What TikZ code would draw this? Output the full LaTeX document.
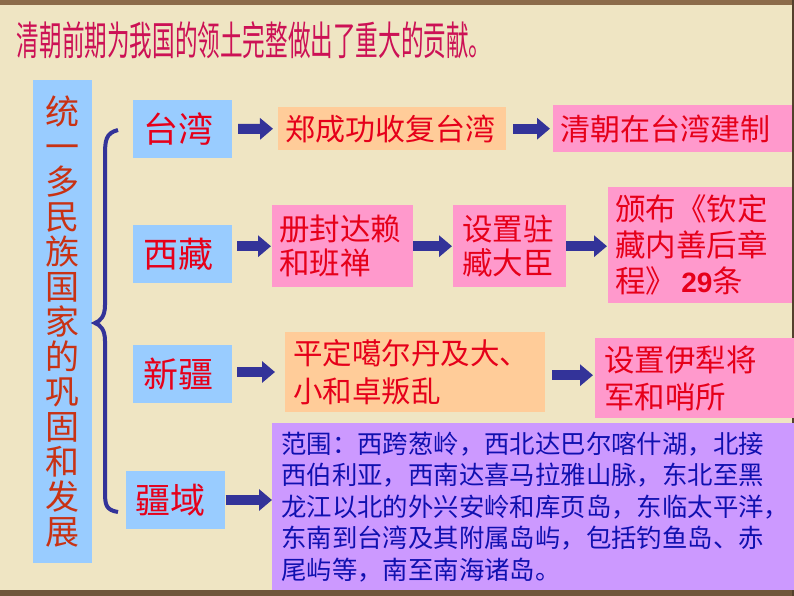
\documentclass[tikz,border=0pt]{standalone}
\usepackage{fontspec}
\setmainfont{Noto Sans CJK SC}
\newfontfamily\arialfont{Liberation Sans}
\usetikzlibrary{arrows.meta}

\definecolor{zhibei}{HTML}{EFE5C3}
\definecolor{biankuang}{HTML}{8C6B4A}
\definecolor{qianlan}{HTML}{99CCFF}
\definecolor{juhuang}{HTML}{FFCC99}
\definecolor{fenhong}{HTML}{FF99CC}
\definecolor{qianzi}{HTML}{CC99FF}
\definecolor{shenlan}{HTML}{333399}
\definecolor{biaotise}{HTML}{CC1155}
\definecolor{zhuhong}{HTML}{C83214}
\definecolor{hongzi}{HTML}{E6001A}
\definecolor{lanzi}{HTML}{1010B0}

\tikzset{
  leibie/.style={fill=qianlan, text=hongzi, text width=79pt, align=left,
    minimum height=58pt, inner xsep=10pt, inner ysep=0pt,
    font=\fontsize{35}{35}\selectfont},
  kuang/.style={anchor=north west, inner xsep=7pt, inner ysep=0pt,
    align=left, text=hongzi},
  jiantou/.style={shenlan, line width=10pt,
    -{Triangle[length=13pt,width=21pt]}},
}

\begin{document}
\begin{tikzpicture}[x=1pt,y=-1pt]

% 底色
\fill[zhibei] (0,0) rectangle (794,596);
\fill[biankuang] (0,0) rectangle (794,5);
\fill[biankuang!80!black] (0,590) rectangle (794,596);
\fill[biankuang!60!black] (792,0) rectangle (794,596);
\useasboundingbox (0,0) rectangle (794,596);

% 标题
\node[anchor=west, xscale=0.565, text=biaotise,
  font=\fontsize{40}{42}\selectfont]
(biaoti) at (15,40)
{清朝前期为我国的领土完整做出了重大的贡献。};

% 主题
\node[fill=qianlan, text=zhuhong, minimum width=59pt,
  minimum height=483pt, align=center,
  font=\fontsize{34}{35}\selectfont]
(zhuti) at (62.5,321.5)
{统\\一\\多\\民\\族\\国\\家\\的\\巩\\固\\和\\发\\展};

% 大括号
\draw[shenlan, line width=4pt]
(118,130)
.. controls (106,133) and (105,140) .. (105,155)
-- (105,305)
.. controls (105,317) and (100,321) .. (95,323)
.. controls (100,325) and (105,329) .. (105,341)
-- (105,492)
.. controls (105,505) and (106,510) .. (118,512);

% 分类
\node[leibie] (taiwan) at (182.5,129) {台湾};
\node[leibie] (xizang) at (182.5,254) {西藏};
\node[leibie] (xinjiang) at (182.5,374) {新疆};
\node[leibie] (jiangyu) at (175,500) {疆域};

% 台湾
\node[kuang, fill=juhuang, text width=214pt, minimum height=43pt,
  font=\fontsize{30}{34}\selectfont]
(zheng) at (278,107)
{郑成功收复台湾};
\node[kuang, fill=fenhong, text width=225pt, minimum height=47pt,
  font=\fontsize{30}{34}\selectfont]
(jianzhi) at (553,105)
{清朝在台湾建制};

% 西藏
\node[kuang, fill=fenhong, text width=127pt, minimum height=82pt,
  font=\fontsize{30.5}{34}\selectfont]
(cefeng) at (272,205)
{册封达赖\\和班禅};
\node[kuang, fill=fenhong, text width=95pt, minimum height=82pt,
  inner xsep=9pt, font=\fontsize{30.5}{34}\selectfont]
(zhuzang) at (453,205)
{设置驻\\臧大臣};
\node[kuang, fill=fenhong, text width=170pt, minimum height=116pt,
  font=\fontsize{30.5}{36}\selectfont]
(banbu) at (608,187)
{颁布《钦定\\藏内善后章\\程》\,{\arialfont\bfseries\fontsize{28}{36}\selectfont 29}条};

% 新疆
\node[kuang, fill=juhuang, text width=244pt, minimum height=80pt,
  inner xsep=8pt, font=\fontsize{29.5}{38}\selectfont]
(pingding) at (285,332)
{平定噶尔丹及大、\\小和卓叛乱};
\node[kuang, fill=fenhong, text width=183pt, minimum height=80pt,
  inner xsep=9pt, font=\fontsize{30.5}{37}\selectfont]
(yili) at (595,338)
{设置伊犁将\\军和哨所};

% 疆域
\node[kuang, fill=qianzi, text=lanzi, text width=504pt,
  minimum height=167pt, inner xsep=9pt,
  font=\fontsize{25.4}{31.5}\selectfont]
(fanwei) at (272,423)
{范围：西跨葱岭，西北达巴尔喀什湖，北接\\
西伯利亚，西南达喜马拉雅山脉，东北至黑\\
龙江以北的外兴安岭和库页岛，东临太平洋，\\
东南到台湾及其附属岛屿，包括钓鱼岛、赤\\
尾屿等，南至南海诸岛。};

% 箭头
\draw[jiantou, shorten <=6pt, shorten >=5pt]
(taiwan.east) -- (zheng.west);
\draw[jiantou, shorten <=7pt, shorten >=3pt]
(zheng.east) -- (jianzhi.west);

\draw[jiantou, shorten <=5pt, shorten >=1pt]
(xizang.east |- cefeng.west) -- (cefeng.west);
\draw[jiantou, shorten >=1pt]
(cefeng.east) -- (zhuzang.west);
\draw[jiantou, shorten >=1pt]
(zhuzang.east) -- (zhuzang.east -| banbu.west);

\draw[jiantou, shorten <=5pt, shorten >=10pt]
([yshift=2pt]xinjiang.east) -- ([yshift=2pt]xinjiang.east -| pingding.west);
\draw[jiantou, shorten <=7pt, shorten >=2pt]
([yshift=-3pt]pingding.east) -- ([yshift=-3pt]pingding.east -| yili.west);

\draw[jiantou, shorten <=1pt]
(jiangyu.east) -- (jiangyu.east -| fanwei.west);

\end{tikzpicture}
\end{document}
